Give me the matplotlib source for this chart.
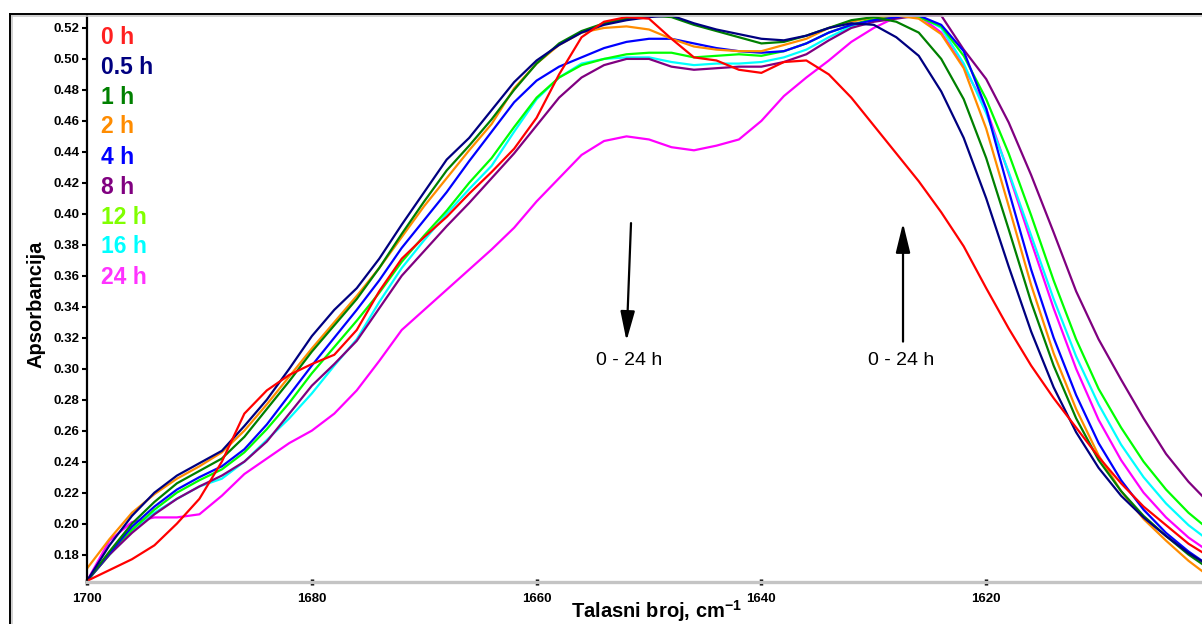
import matplotlib
matplotlib.use("Agg")
import matplotlib.pyplot as plt
from matplotlib.lines import Line2D

plt.rcParams['font.family'] = ['Liberation Sans', 'DejaVu Sans']
plt.rcParams['mathtext.fontset'] = 'custom'
plt.rcParams['mathtext.rm'] = 'Liberation Sans'
plt.rcParams['mathtext.bf'] = 'Liberation Sans:bold'

# wavenumber grid, cm-1 (1700 -> 1600, step 2)
wavenumber = [1700, 1698, 1696, 1694, 1692, 1690, 1688, 1686, 1684, 1682,
              1680, 1678, 1676, 1674, 1672, 1670, 1668, 1666, 1664, 1662,
              1660, 1658, 1656, 1654, 1652, 1650, 1648, 1646, 1644, 1642,
              1640, 1638, 1636, 1634, 1632, 1630, 1628, 1626, 1624, 1622,
              1620, 1618, 1616, 1614, 1612, 1610, 1608, 1606, 1604, 1602,
              1600]

abs_0h = [0.163, 0.170, 0.177, 0.186, 0.200, 0.216, 0.240, 0.271, 0.286, 0.296,
          0.303, 0.309, 0.325, 0.350, 0.371, 0.385, 0.398, 0.413, 0.427, 0.442,
          0.462, 0.490, 0.514, 0.524, 0.527, 0.526, 0.513, 0.501, 0.499, 0.493,
          0.491, 0.498, 0.499, 0.490, 0.475, 0.457, 0.439, 0.421, 0.401, 0.379,
          0.352, 0.326, 0.302, 0.281, 0.262, 0.243, 0.226, 0.211, 0.199, 0.187,
          0.178]
abs_05h = [0.163, 0.186, 0.205, 0.220, 0.231, 0.239, 0.247, 0.263, 0.280, 0.300,
           0.321, 0.338, 0.352, 0.371, 0.393, 0.414, 0.435, 0.449, 0.467, 0.485,
           0.499, 0.509, 0.517, 0.522, 0.525, 0.527, 0.528, 0.523, 0.519, 0.516,
           0.513, 0.512, 0.515, 0.520, 0.523, 0.522, 0.514, 0.502, 0.479, 0.449,
           0.410, 0.366, 0.324, 0.288, 0.259, 0.236, 0.218, 0.204, 0.192, 0.181,
           0.172]
abs_1h = [0.163, 0.182, 0.200, 0.214, 0.226, 0.234, 0.242, 0.256, 0.274, 0.292,
          0.311, 0.328, 0.345, 0.365, 0.387, 0.408, 0.428, 0.444, 0.461, 0.480,
          0.497, 0.510, 0.518, 0.523, 0.526, 0.528, 0.527, 0.522, 0.518, 0.514,
          0.510, 0.511, 0.515, 0.520, 0.525, 0.527, 0.524, 0.517, 0.500, 0.474,
          0.436, 0.390, 0.343, 0.302, 0.268, 0.241, 0.221, 0.205, 0.192, 0.180,
          0.170]
abs_2h = [0.171, 0.190, 0.207, 0.219, 0.229, 0.237, 0.246, 0.260, 0.277, 0.295,
          0.313, 0.330, 0.347, 0.365, 0.385, 0.405, 0.423, 0.441, 0.458, 0.481,
          0.497, 0.509, 0.517, 0.520, 0.521, 0.519, 0.513, 0.508, 0.506, 0.505,
          0.505, 0.509, 0.513, 0.520, 0.524, 0.527, 0.528, 0.526, 0.516, 0.494,
          0.455, 0.405, 0.354, 0.310, 0.274, 0.244, 0.221, 0.203, 0.189, 0.176,
          0.165]
abs_4h = [0.163, 0.181, 0.198, 0.211, 0.222, 0.230, 0.237, 0.248, 0.264, 0.283,
          0.302, 0.320, 0.338, 0.357, 0.378, 0.396, 0.414, 0.434, 0.453, 0.472,
          0.486, 0.495, 0.501, 0.507, 0.511, 0.513, 0.513, 0.510, 0.507, 0.505,
          0.504, 0.505, 0.510, 0.517, 0.522, 0.525, 0.527, 0.528, 0.522, 0.505,
          0.468, 0.415, 0.364, 0.320, 0.283, 0.252, 0.228, 0.209, 0.194, 0.182,
          0.172]
abs_8h = [0.163, 0.180, 0.194, 0.206, 0.216, 0.224, 0.231, 0.240, 0.253, 0.271,
          0.289, 0.303, 0.318, 0.339, 0.360, 0.376, 0.392, 0.407, 0.423, 0.439,
          0.457, 0.475, 0.488, 0.496, 0.500, 0.500, 0.495, 0.493, 0.494, 0.495,
          0.495, 0.498, 0.503, 0.512, 0.520, 0.524, 0.526, 0.528, 0.528, 0.506,
          0.487, 0.459, 0.425, 0.388, 0.350, 0.319, 0.293, 0.268, 0.245, 0.227,
          0.212]
abs_12h = [0.163, 0.180, 0.196, 0.209, 0.220, 0.228, 0.235, 0.246, 0.261, 0.278,
           0.297, 0.314, 0.331, 0.349, 0.369, 0.386, 0.402, 0.420, 0.436, 0.456,
           0.475, 0.488, 0.496, 0.500, 0.503, 0.504, 0.504, 0.501, 0.502, 0.503,
           0.502, 0.505, 0.510, 0.517, 0.522, 0.526, 0.528, 0.527, 0.521, 0.502,
           0.474, 0.439, 0.399, 0.357, 0.319, 0.287, 0.262, 0.240, 0.222, 0.207,
           0.195]
abs_16h = [0.163, 0.180, 0.195, 0.207, 0.216, 0.224, 0.229, 0.240, 0.254, 0.268,
           0.284, 0.302, 0.319, 0.343, 0.365, 0.383, 0.400, 0.416, 0.431, 0.453,
           0.474, 0.488, 0.497, 0.500, 0.501, 0.501, 0.498, 0.496, 0.497, 0.497,
           0.498, 0.501, 0.506, 0.514, 0.521, 0.526, 0.528, 0.528, 0.520, 0.497,
           0.465, 0.427, 0.386, 0.345, 0.308, 0.277, 0.251, 0.230, 0.213, 0.199,
           0.188]
abs_24h = [0.163, 0.189, 0.201, 0.204, 0.204, 0.206, 0.218, 0.232, 0.242, 0.252,
           0.260, 0.271, 0.286, 0.305, 0.325, 0.338, 0.351, 0.364, 0.377, 0.391,
           0.408, 0.423, 0.438, 0.447, 0.450, 0.448, 0.443, 0.441, 0.444, 0.448,
           0.460, 0.476, 0.488, 0.499, 0.511, 0.520, 0.527, 0.528, 0.517, 0.495,
           0.468, 0.426, 0.382, 0.339, 0.300, 0.267, 0.241, 0.220, 0.204, 0.191,
           0.181]

labels = ['0 h', '0.5 h', '1 h', '2 h', '4 h', '8 h', '12 h', '16 h', '24 h']
series = [abs_0h, abs_05h, abs_1h, abs_2h, abs_4h, abs_8h, abs_12h, abs_16h, abs_24h]
line_colors = ['#ff0000', '#000080', '#008000', '#ff8c00', '#0000ff',
               '#800080', '#00ff00', '#00ffff', '#ff00ff']
label_colors = ['#ff2020', '#000080', '#008000', '#ff8c00', '#0000ff',
                '#800080', '#80ff00', '#00ffff', '#ff33ff']

yticks = [0.18, 0.20, 0.22, 0.24, 0.26, 0.28, 0.30, 0.32, 0.34,
          0.36, 0.38, 0.40, 0.42, 0.44, 0.46, 0.48, 0.50, 0.52]
xticks = [1700, 1680, 1660, 1640, 1620]
xminor = [1695, 1690, 1685, 1675, 1670, 1665, 1655, 1650, 1645,
          1635, 1630, 1625, 1615, 1610, 1605]

W, H = 1202, 624
fig = plt.figure(figsize=(W / 100, H / 100), dpi=100)
ax = fig.add_axes([87 / W, 42 / H, 1115 / W, 568 / H])

for ys, c in zip(series[::-1], line_colors[::-1]):
    ax.plot(wavenumber, ys, color=c, lw=1.6, solid_joinstyle='round')

ax.set_xlim(1700, 1600.8)
ax.set_ylim(0.1623, 0.5290)

for side in ['top', 'right']:
    ax.spines[side].set_visible(False)
ax.spines['left'].set_linestyle((0, (1, 1)))
ax.spines['left'].set_linewidth(1.6)
ax.spines['left'].set_color('black')
ax.spines['bottom'].set_color('#c4c4c4')
ax.spines['bottom'].set_linewidth(2.4)

ax.set_yticks(yticks)
ax.set_yticklabels([f'{v:.2f}' for v in yticks], fontweight='bold', fontsize=9.5)
ax.tick_params(axis='y', direction='out', length=3.5, width=1.5, color='black', pad=2)

ax.set_xticks(xticks)
ax.set_xticklabels([str(v) for v in xticks], fontweight='bold', fontsize=9.5)
ax.set_xticks(xminor, minor=True)
ax.tick_params(axis='x', which='major', direction='inout', length=4, width=2.5,
               color='black', pad=6)
ax.tick_params(axis='x', which='minor', direction='inout', length=2, width=2,
               color='black')

ax.set_ylabel('Apsorbancija', fontsize=14.5, fontweight='bold')
ax.yaxis.set_label_coords(-0.037, 0.489)
ax.set_xlabel(r'Talasni broj, cm$^{\mathbf{-1}}$', fontsize=14.5, fontweight='bold')
ax.xaxis.set_label_coords(0.511, -0.029)

# arrows and their captions
arrow_style = dict(arrowstyle='-|>,head_length=0.9,head_width=0.22',
                   color='black', lw=1.6, mutation_scale=20, shrinkA=0, shrinkB=0)
ax.annotate('', xy=(1652.0, 0.3180), xytext=(1651.6, 0.3940), arrowprops=arrow_style)
ax.annotate('', xy=(1627.4, 0.3940), xytext=(1627.4, 0.3175), arrowprops=arrow_style)
ax.text(1651.8, 0.3050, '0 - 24 h', fontsize=14, ha='center', va='center')
ax.text(1627.6, 0.3050, '0 - 24 h', fontsize=14, ha='center', va='center')

# legend as coloured labels
for i, (lab, c) in enumerate(zip(labels, label_colors)):
    fig.text(101 / W, 1 - (37 + 30 * i) / H, lab, color=c, fontsize=16.5,
             fontweight='bold', va='center', ha='left')

# outer window frame
fig.add_artist(Line2D([10 / W, 10 / W], [0, 1 - 13.5 / H], transform=fig.transFigure,
                      color='black', lw=1.4))
fig.add_artist(Line2D([10 / W, 1], [1 - 13.5 / H, 1 - 13.5 / H], transform=fig.transFigure,
                      color='black', lw=1.4))
fig.add_artist(Line2D([12 / W, 12 / W], [0, 1 - 15.5 / H], transform=fig.transFigure,
                      color='#c8c8c8', lw=1.2))
fig.add_artist(Line2D([12 / W, 1], [1 - 15.5 / H, 1 - 15.5 / H], transform=fig.transFigure,
                      color='#c8c8c8', lw=1.2))

fig.savefig('out.png', dpi=100)
